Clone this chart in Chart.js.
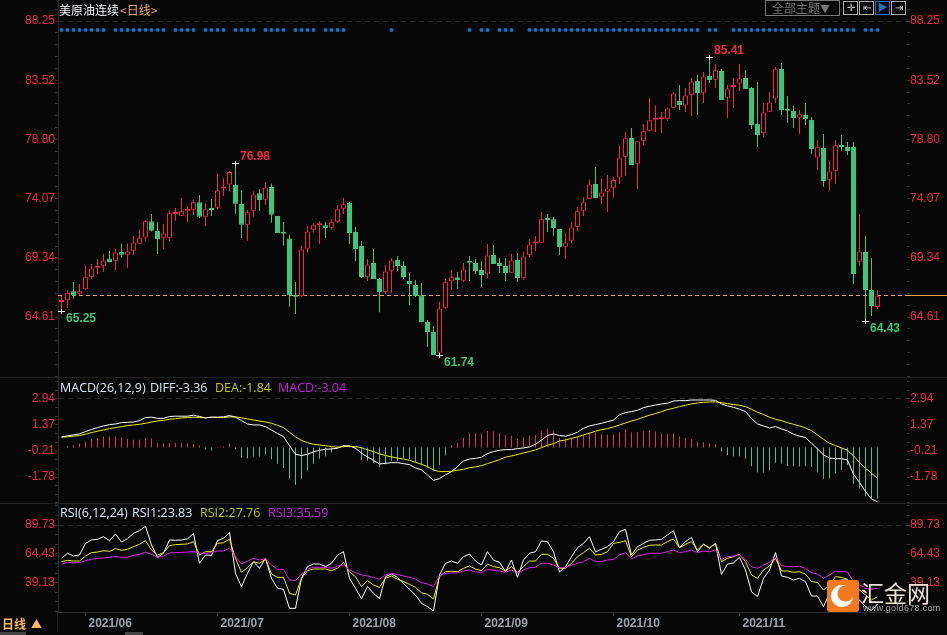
<!DOCTYPE html>
<html>
<head>
<meta charset="utf-8">
<script src="https://cdn.jsdelivr.net/npm/chart.js@4/dist/chart.umd.js"></script>
<style>
  html, body { margin: 0; padding: 0; background: #070707; overflow: hidden; }
  body { width: 947px; height: 635px; position: relative; }
  canvas { position: absolute; left: 0; }
  .t { position: absolute; white-space: nowrap; font-family: "Noto Sans CJK SC", "Liberation Sans", sans-serif; font-size: 12px; line-height: 14px; }
  .k { font-family: "Open Sans", "Liberation Sans", sans-serif; font-size: 12.5px; }
  .line { position: absolute; background: #222; }
  .btn { position: absolute; top: 1px; width: 13px; height: 12px; border: 1px solid #aaa; }
</style>
</head>
<body>

<canvas id="chart" style="top:0px" width="947" height="377"></canvas>
<canvas id="chart2" style="top:378px" width="947" height="125"></canvas>
<canvas id="chart3" style="top:504px" width="947" height="131"></canvas>

<div class="line" style="left:0;top:377px;width:947px;height:1px"></div>
<div class="line" style="left:0;top:503px;width:947px;height:1px"></div>
<div class="line" style="left:57px;top:612px;width:1px;height:20px"></div>
<div class="line" style="left:0;top:632px;width:26px;height:3px;background:#444"></div>
<div class="line" style="left:125px;top:632px;width:18px;height:3px;background:#444"></div>

<div class="t" style="left:59px;top:3px;color:#eef4fa">美原油连续</div>
<div class="t" style="left:120px;top:3px;color:#f2b04c">&lt;日线&gt;</div>

<div class="t" style="left:765px;top:0;width:73px;height:14px;border:1px solid #777;color:#777;text-indent:6px">全部主题<span style="font-size:10px">▼</span></div>
<div class="btn" style="left:843px"></div>
<div class="btn" style="left:859px"></div>
<div class="btn" style="left:875px;border-color:#1b76c4"></div>
<div class="btn" style="left:891px"></div>
<div class="t" style="left:843px;top:0;width:15px;text-align:center;color:#ccc;font-size:10px">✛</div>
<div class="t" style="left:859px;top:0;width:15px;text-align:center;color:#ccc;font-size:10px">⇤</div>
<div class="t" style="left:875px;top:0;width:15px;text-align:center;color:#1b76c4;font-size:10px">▶</div>
<div class="t" style="left:891px;top:0;width:15px;text-align:center;color:#ccc;font-size:10px">⇥</div>

<div class="t k" style="left:60px;top:381px;color:#d8e8f8">MACD(26,12,9)</div>
<div class="t k" style="left:150px;top:381px;color:#d8e8f8">DIFF:-3.36</div>
<div class="t k" style="left:215px;top:381px;color:#c8c800">DEA:-1.84</div>
<div class="t k" style="left:278px;top:381px;color:#c820e0">MACD:-3.04</div>

<div class="t k" style="left:60px;top:506px;color:#d8e8f8">RSI(6,12,24)</div>
<div class="t k" style="left:132px;top:506px;color:#d8e8f8">RSI1:23.83</div>
<div class="t k" style="left:200px;top:506px;color:#b8c800">RSI2:27.76</div>
<div class="t k" style="left:268px;top:506px;color:#c820e0">RSI3:35.59</div>

<div class="t" style="left:2px;top:617px;color:#f5b95f;font-weight:bold">日线</div>
<div class="t" style="left:31px;top:616px;color:#f5b95f;font-size:11px">▲</div>

<svg style="position:absolute;left:827px;top:580px" width="32" height="32" viewBox="0 0 32 32">
  <rect width="32" height="32" rx="3" fill="#f47a20"/>
  <circle cx="15" cy="16" r="11" fill="#fff"/>
  <circle cx="18.5" cy="13.5" r="8" fill="#f47a20"/>
</svg>
<div class="t" style="left:861px;top:578px;color:#eee4d4;font-size:23px;line-height:28px">汇金网</div>
<div class="t" style="left:863px;top:603px;color:#a8a8a8;font-family:'Liberation Sans';font-size:9px;line-height:10px;letter-spacing:.3px">www.gold678.com</div>

<script>
//Velas japonesas, una por dia de cotizacion
const opens = [
  65.81,65.94,66.66,66.47,66.82,67.83,68.55,68.71,69.29,69.11,
  69.80,69.59,69.91,70.47,70.97,72.25,71.48,70.94,70.94,72.83,
  72.70,73.10,73.18,73.77,72.62,73.31,73.34,74.88,75.20,75.15,
  73.63,71.98,73.10,74.49,73.98,74.99,72.67,71.32,70.89,66.34,
  66.26,70.07,71.58,71.93,71.93,71.74,72.22,73.26,73.71,71.40,
  70.28,67.83,68.92,67.64,66.63,68.31,69.16,68.68,67.48,67.16,
  66.34,64.21,63.41,61.76,65.35,67.46,67.78,67.51,69.08,68.92,
  68.36,68.07,69.56,68.92,68.68,68.15,69.16,67.75,69.59,70.49,
  70.54,72.43,72.41,71.64,70.23,70.70,71.82,73.10,74.06,75.23,
  74.22,74.62,74.94,75.76,77.41,78.91,76.85,78.69,79.49,80.37,
  80.40,80.45,81.33,81.86,81.51,82.37,83.46,82.53,83.86,83.56,
  84.26,82.13,82.98,83.27,83.70,82.90,80.02,79.28,81.01,82.07,
  84.42,81.22,81.06,80.53,80.74,80.34,77.36,78.11,75.58,76.30,
  78.35,78.19,78.19,69.03,69.80,66.76,65.41
];
const closes = [
  65.86,66.55,66.34,66.66,67.78,68.49,68.65,69.13,69.00,69.77,
  69.59,69.85,70.57,70.97,72.25,71.50,70.84,71.29,72.89,72.91,
  73.05,73.15,73.77,72.62,73.21,73.15,74.72,74.96,76.19,73.66,
  71.98,72.97,74.40,73.95,74.96,72.78,71.32,71.26,66.34,66.23,
  70.01,71.45,71.93,72.04,71.72,72.17,73.21,73.61,71.32,70.04,
  67.80,68.81,67.64,66.60,68.25,69.13,68.68,67.80,67.24,66.28,
  64.21,63.41,61.57,65.30,67.38,67.78,67.56,68.41,68.95,68.28,
  67.96,69.53,68.84,68.68,68.12,69.13,67.72,69.45,70.41,70.60,
  72.41,72.36,71.72,70.20,70.57,71.77,73.05,73.77,75.20,74.11,
  74.56,74.88,75.55,77.36,78.88,76.75,78.64,79.44,80.32,80.45,
  80.48,81.27,82.47,81.54,82.31,83.43,82.50,83.83,83.54,84.31,
  81.94,82.87,83.06,83.67,82.82,79.94,79.14,80.95,81.75,84.39,
  81.14,81.09,80.50,80.80,80.42,78.03,78.16,75.47,76.24,78.32,
  78.19,77.87,68.04,69.85,66.76,65.49,66.26
];
const highs = [
  66.28,66.74,67.40,67.24,68.73,68.84,69.24,69.64,69.88,70.09,
  70.49,70.49,71.08,71.61,72.36,72.83,72.20,72.04,73.13,73.31,
  74.11,73.47,74.01,74.35,73.69,74.03,76.08,75.71,76.30,76.91,
  74.75,73.15,74.64,74.83,75.36,75.28,72.67,72.20,71.21,67.40,
  70.33,71.88,72.09,72.25,72.17,72.41,73.55,74.11,73.79,71.80,
  70.68,69.24,70.04,67.72,68.76,69.32,69.48,69.08,68.12,67.56,
  67.32,64.37,63.89,65.81,67.64,68.36,68.20,68.92,69.48,69.24,
  69.08,70.44,70.36,69.32,69.32,69.64,69.72,69.80,70.84,71.08,
  73.00,72.83,72.59,71.64,71.32,72.20,73.39,74.17,75.60,76.59,
  75.68,75.95,75.82,78.29,79.38,79.70,78.64,80.02,82.10,81.51,
  80.98,81.35,82.58,83.14,82.90,83.70,83.94,84.18,85.37,84.82,
  84.42,83.14,83.70,84.82,84.34,82.98,83.38,81.70,82.58,84.58,
  84.90,82.26,81.51,81.14,81.70,80.58,78.75,79.23,77.07,78.75,
  79.14,78.59,78.59,72.82,71.08,69.32,66.76
];
const lows = [
  65.09,65.33,66.07,66.34,66.79,67.67,68.04,68.20,68.97,68.36,
  69.35,68.52,69.59,70.47,70.70,71.45,69.64,70.04,70.68,72.30,
  72.67,72.20,72.75,72.51,71.88,72.67,73.23,74.27,74.67,72.83,
  70.92,70.70,72.62,73.07,73.55,72.14,71.32,70.30,65.43,64.85,
  66.23,69.75,71.34,70.44,70.92,71.58,72.12,72.83,70.44,69.08,
  67.72,67.48,67.64,65.00,66.44,66.50,68.28,67.64,65.57,66.20,
  64.21,62.21,61.57,61.57,65.25,66.76,66.84,67.40,67.48,68.04,
  67.00,67.72,68.84,68.12,67.48,68.12,67.40,67.56,69.40,69.88,
  70.52,71.40,71.08,69.56,69.24,70.52,71.48,72.67,74.03,74.11,
  73.63,72.99,74.11,75.23,75.90,76.75,74.83,78.32,79.49,79.38,
  79.30,80.29,81.33,81.14,80.98,80.66,80.74,81.70,83.30,82.90,
  81.94,80.50,81.30,82.66,82.82,79.62,78.19,78.96,81.01,81.70,
  80.74,80.10,79.70,79.23,79.94,77.63,76.35,75.02,74.70,75.23,
  77.87,77.55,67.24,68.68,64.26,64.69,65.25
];
const prevClose = 66.34;
const signalDays = [
  0,1,2,3,4,5,6,7,9,10,11,12,13,14,15,16,17,19,20,21,22,24,25,26,27,29,30,31,32,34,35,36,37,39,40,41,42,
  44,45,46,47,55,68,70,71,73,74,75,
  78,79,80,81,82,83,84,85,86,87,88,89,90,91,92,93,94,95,96,97,98,99,100,101,102,103,104,105,106,
  108,109,112,113,114,115,116,117,118,119,120,121,122,123,124,125,127,128,129,130,131,132,134,135,136
];
const signalLevel = 87.53;

//Maximos y minimos marcados
const markDays = [0, 29, 63, 108, 134];
const markPrices = [65.09, 76.91, 61.57, 85.37, 64.26];
const markTexts = ['65.25', '76.98', '61.74', '85.41', '64.43'];

const diff = [
  .65,.71,.77,.83,.97,1.09,1.21,1.31,1.39,1.43,
  1.51,1.53,1.55,1.63,1.82,1.84,1.77,1.77,1.88,1.90,
  1.90,1.90,1.96,1.88,1.80,1.84,1.84,1.86,1.94,1.84,
  1.63,1.43,1.37,1.37,1.27,1.07,.85,.67,.12,-.40,
  -.48,-.40,-.26,-.16,-.10,-.08,-.04,.12,.10,-.04,
  -.34,-.56,-.77,-.99,-.95,-.91,-.91,-.97,-1.03,-1.23,
  -1.35,-1.65,-1.98,-1.88,-1.65,-1.45,-1.15,-.81,-.69,-.65,
  -.58,-.36,-.24,-.16,-.12,-.12,-.06,-.02,.04,.20,
  .46,.73,.83,.73,.69,.79,.93,1.17,1.31,1.39,
  1.47,1.57,1.67,1.98,2.12,2.18,2.26,2.42,2.50,2.58,
  2.64,2.68,2.82,2.84,2.84,2.88,2.88,2.88,2.88,2.86,
  2.64,2.52,2.44,2.32,2.18,1.77,1.43,1.31,1.19,1.27,
  1.13,1.01,.81,.69,.61,.26,-.08,-.44,-.63,-.67,
  -.67,-.75,-1.61,-2.10,-2.66,-3.11,-3.27
];
const dea = [
  .63,.65,.69,.73,.81,.91,.99,1.07,1.15,1.21,
  1.27,1.33,1.37,1.41,1.47,1.55,1.61,1.65,1.71,1.75,
  1.80,1.82,1.84,1.82,1.80,1.84,1.82,1.82,1.86,1.86,
  1.80,1.73,1.67,1.61,1.55,1.47,1.35,1.21,.93,.65,
  .44,.30,.20,.16,.12,.06,.02,.06,.08,.06,
  0,-.14,-.24,-.38,-.48,-.56,-.63,-.69,-.77,-.89,
  -1.01,-1.15,-1.35,-1.45,-1.45,-1.43,-1.37,-1.31,-1.21,-1.17,
  -1.09,-.97,-.85,-.73,-.58,-.50,-.42,-.32,-.24,-.14,
  0,.14,.24,.40,.46,.56,.65,.77,.87,.99,
  1.09,1.15,1.25,1.37,1.49,1.61,1.71,1.84,1.96,2.06,
  2.18,2.30,2.38,2.48,2.56,2.64,2.70,2.74,2.76,2.76,
  2.72,2.66,2.60,2.56,2.48,2.32,2.14,2.00,1.84,1.71,
  1.63,1.51,1.41,1.31,1.19,1.03,.77,.50,.26,.12,
  -.02,-.16,-.50,-.89,-1.25,-1.55,-1.86
];
const macdBars = [
  .02,.10,.14,.24,.36,.54,.58,.65,.67,.67,
  .61,.54,.48,.48,.58,.56,.30,.26,.30,.30,
  .30,.26,.24,.14,-.12,-.18,.02,.06,.24,-.10,
  -.61,-.65,-.54,-.54,-.42,-.71,-.97,-1.23,-1.88,-2.24,
  -1.88,-1.39,-.97,-.67,-.52,-.30,.10,.14,.14,-.10,
  -.73,-.79,-.93,-1.19,-1.01,-.79,-.79,-.63,-.69,-.87,
  -1.03,-1.23,-1.45,-1.07,-.48,.14,.30,.58,.87,.87,
  .85,1.01,.97,.89,.75,.71,.54,.63,.73,.77,
  .99,1.15,.99,.58,.54,.56,.65,.77,.95,.91,
  .83,.79,.79,.93,1.13,.93,.95,.99,1.03,.97,
  .87,.83,.85,.67,.58,.50,.36,.34,.26,.20,
  -.24,-.44,-.52,-.52,-.67,-1.13,-1.49,-1.51,-1.37,-.91,
  -.97,-1.11,-1.13,-1.15,-1.13,-1.17,-1.49,-1.88,-1.86,-1.57,
  -1.37,-1.07,-2.18,-2.48,-2.94,-3.09,-3.09
];

const rsi1 = [
  60.5,64.9,62.5,63.4,73.6,76.6,77.2,79.5,76.0,81.8,
  74.8,77.7,82.4,84.8,88.6,72.2,61.4,64.9,76.6,76.3,
  76.6,77.5,82.4,56.1,63.4,63.1,76.0,78.0,83.3,47.3,
  35.6,47.3,57.6,51.7,60.5,42.9,34.2,33.3,16.6,16.6,
  42.9,53.2,55.5,55.5,53.2,56.1,63.4,66.3,42.9,34.2,
  25.1,35.6,29.8,25.1,44.4,46.7,43.8,38.6,33.3,28.3,
  21.0,18.1,14.3,45.9,56.1,58.1,56.1,61.9,64.3,58.1,
  54.6,66.3,59.0,57.0,48.8,59.0,43.8,59.0,64.9,66.3,
  75.7,75.1,66.3,48.5,53.2,61.9,69.8,73.6,79.5,66.3,
  68.4,70.7,75.1,83.9,85.9,63.4,70.7,73.6,76.3,76.6,
  77.2,81.0,84.8,69.8,75.1,78.9,66.3,72.8,69.3,73.6,
  46.4,55.5,56.4,61.4,50.2,31.2,26.8,42.9,50.2,65.5,
  45.0,43.8,41.5,42.9,40.0,27.4,27.4,18.1,29.8,39.1,
  41.5,41.5,28.3,23.9,18.1,14.6,20.4
];
const rsi2 = [
  57.6,58.7,58.1,58.1,62.5,65.5,66.0,67.2,66.6,69.0,
  67.5,68.4,70.7,72.8,76.0,67.8,63.4,65.5,71.6,72.5,
  72.8,73.1,75.1,63.4,66.3,66.3,73.6,74.2,77.2,60.5,
  48.2,52.3,57.6,56.1,59.9,46.7,43.8,43.8,29.8,28.3,
  42.9,49.7,51.1,51.1,51.1,49.7,51.7,57.0,48.8,44.4,
  35.6,40.9,37.1,35.0,42.9,45.0,42.1,40.0,37.7,35.0,
  30.3,28.9,24.8,44.4,48.8,49.1,48.8,51.7,53.8,51.1,
  49.7,55.5,53.2,52.3,49.4,53.2,47.9,53.2,58.1,58.1,
  64.0,64.0,60.5,51.7,51.7,56.1,61.9,65.5,69.3,63.4,
  64.0,66.3,73.6,74.5,76.0,61.9,67.8,70.1,71.9,72.2,
  72.2,75.1,77.5,69.8,72.8,75.1,67.8,72.8,69.8,73.6,
  57.6,60.5,61.9,64.0,57.6,45.9,42.9,50.2,53.8,60.5,
  49.4,49.4,48.2,48.8,46.7,40.0,39.4,32.7,37.1,44.4,
  43.8,42.1,36.2,32.7,28.3,23.9,26.8
];
const rsi3 = [
  55.2,57.0,56.4,56.7,58.4,59.6,60.5,60.8,61.4,62.2,
  61.4,61.4,63.1,64.0,66.0,64.0,61.4,62.5,65.2,65.5,
  65.7,66.0,66.6,64.9,64.9,65.5,66.9,66.9,69.3,61.9,
  55.5,58.1,60.5,59.0,60.2,54.6,50.8,50.8,41.5,40.9,
  46.7,51.1,52.6,52.6,52.6,51.7,53.8,54.6,50.2,47.9,
  45.9,45.0,43.8,42.1,45.9,47.3,46.2,45.0,43.8,42.1,
  39.1,38.0,35.6,45.0,47.3,47.6,47.6,49.4,50.2,48.5,
  48.2,50.8,50.0,49.4,48.2,50.2,47.6,50.2,52.3,52.6,
  56.1,56.1,54.6,52.0,52.6,54.3,56.1,57.6,60.5,57.6,
  57.8,59.0,59.6,63.4,65.5,59.9,62.5,63.7,64.9,64.9,
  64.9,66.3,67.8,65.5,66.3,67.8,65.5,66.9,66.3,67.8,
  59.6,61.9,62.5,63.4,59.6,53.2,51.7,54.6,57.0,61.4,
  54.0,53.2,53.2,53.5,51.7,47.9,46.7,42.9,45.9,49.1,
  48.8,48.5,40.0,37.1,34.2,33.3,34.2
];

const priceTicks = [88.25, 83.52, 78.80, 74.07, 69.34, 64.61];
const macdTicks = [2.94, 1.37, -0.21, -1.78];
const rsiTicks = [89.73, 64.43, 39.13];
const monthDays = [4, 26, 48, 70, 92, 113];
const monthLabels = ['2021/06', '2021/07', '2021/08', '2021/09', '2021/10', '2021/11'];

const rojo = '#f0284a';
const verde = '#3cc67c';
const fondo = '#070707';
const xMin = -0.5833, xMax = 140.9167;

Chart.defaults.font.family = '"Liberation Sans", Arial, sans-serif';
Chart.defaults.font.size = 12;
Chart.defaults.animation = false;

//Junta cada tick con sus divisiones menores, solo llevan etiqueta los principales
let conMenores = (ticks, partes, min, max) => {
  let paso = (ticks[0] - ticks[1]) / partes;
  let lista = [];
  for (let v = ticks[0]; v < max; v += paso) lista.push(v);
  for (let v = ticks[0] - paso; v > min; v -= paso) lista.push(v);
  return lista.map(v => {
    let cerca = ticks.find(t => Math.abs(t - v) < paso / 10);
    return {value: cerca === undefined ? v : cerca};
  });
};

let ejeY = (ticks, partes, min, max, pos) => ({
  position: pos,
  min: min,
  max: max,
  border: pos === 'left' ? {color: '#2a2a2a', dash: [5, 4]} : {display: false},
  grid: {
    drawOnChartArea: pos === 'left',
    tickLength: 3,
    tickColor: '#333',
    tickBorderDash: [],
    color: c => (c.tick && c.tick.value === ticks[0]) ? '#2c2c2c' : 'transparent'
  },
  ticks: {
    color: rojo,
    padding: 0,
    autoSkip: false,
    callback: v => ticks.includes(v) ? v.toFixed(2) : ''
  },
  afterBuildTicks: s => { s.ticks = conMenores(ticks, partes, min, max); },
  afterFit: s => { s.width = pos === 'left' ? 58 : 40; s.paddingTop = 0; s.paddingBottom = 0; }
});

let ejeXOculto = {type: 'linear', display: false, min: xMin, max: xMax, offset: false};

let linea = (data, color) => ({
  type: 'line',
  data: data.map((v, i) => ({x: i, y: v})),
  borderColor: color,
  borderWidth: 1,
  pointRadius: 0,
  tension: 0,
  order: 0
});

let base = {
  responsive: false,
  events: [],
  layout: {autoPadding: false},
  plugins: {legend: {display: false}, tooltip: {enabled: false}}
};

//Linea del cierre anterior, punteada dentro del grafico y continua a la derecha
let lineaCierre = {
  id: 'lineaCierre',
  beforeDatasetsDraw(chart) {
    let ctx = chart.ctx, y = Math.round(chart.scales.y.getPixelForValue(prevClose)) + 0.5;
    ctx.save();
    ctx.strokeStyle = '#e8a33d';
    ctx.lineWidth = 1;
    ctx.setLineDash([4, 3]);
    ctx.beginPath(); ctx.moveTo(chart.chartArea.left, y); ctx.lineTo(905, y); ctx.stroke();
    ctx.setLineDash([]);
    ctx.beginPath(); ctx.moveTo(905, y); ctx.lineTo(947, y); ctx.stroke();
    ctx.restore();
  }
};

//Cruz blanca y valor en los maximos y minimos
let marcas = {
  id: 'marcas',
  afterDatasetsDraw(chart) {
    let ctx = chart.ctx;
    ctx.save();
    ctx.font = 'bold 12px "Liberation Sans"';
    ctx.textBaseline = 'middle';
    markDays.forEach((d, k) => {
      let x = Math.floor(chart.scales.x.getPixelForValue(d)) + 0.5;
      let y = Math.round(chart.scales.y.getPixelForValue(markPrices[k])) + 0.5;
      let alto = highs[d] - markPrices[k] < 0.01;
      ctx.strokeStyle = '#fff';
      ctx.lineWidth = 1;
      ctx.beginPath();
      ctx.moveTo(x - 3.5, y); ctx.lineTo(x + 3.5, y);
      ctx.moveTo(x, y - 2.5); ctx.lineTo(x, y + 2.5);
      ctx.stroke();
      ctx.fillStyle = alto ? rojo : verde;
      ctx.fillText(markTexts[k], x + 4.5, alto ? y - 7 : y + 7.5);
    });
    ctx.restore();
  }
};

var ctx = document.getElementById('chart').getContext('2d');
var chart = new Chart(ctx, {
  type: 'bar',
  data: {
    datasets: [
      {
        data: signalDays.map(d => ({x: d, y: signalLevel})),
        type: 'line',
        showLine: false,
        pointRadius: 2,
        pointBorderWidth: 0,
        pointBackgroundColor: '#0f74c4',
        order: 0
      },
      {
        data: opens.map((o, i) => ({x: i, y: [opens[i], closes[i]]})),
        grouped: false,
        barThickness: 5,
        minBarLength: 2,
        borderWidth: 1,
        borderSkipped: false,
        inflateAmount: 0,
        backgroundColor: opens.map((o, i) => closes[i] >= o ? fondo : verde),
        borderColor: opens.map((o, i) => closes[i] >= o ? rojo : verde),
        order: 1
      },
      {
        data: highs.map((h, i) => ({x: i, y: [lows[i], h]})),
        grouped: false,
        barThickness: 1,
        inflateAmount: 0,
        backgroundColor: opens.map((o, i) => closes[i] >= o ? rojo : verde),
        order: 2
      }
    ]
  },
  options: Object.assign({}, base, {
    scales: {
      x: ejeXOculto,
      y: ejeY(priceTicks, 5, 59.82, 89.93, 'left'),
      yR: ejeY(priceTicks, 5, 59.82, 89.93, 'right')
    }
  }),
  plugins: [lineaCierre, marcas]
});

var ctx2 = document.getElementById('chart2').getContext('2d');
var chart2 = new Chart(ctx2, {
  type: 'bar',
  data: {
    datasets: [
      linea(diff, '#ffffff'),
      linea(dea, '#f0f000'),
      {
        data: macdBars.map((v, i) => ({x: i, y: v})),
        grouped: false,
        barThickness: 1,
        inflateAmount: 0,
        backgroundColor: macdBars.map(v => v >= 0 ? '#d9344f' : '#55b98c'),
        order: 1
      }
    ]
  },
  options: Object.assign({}, base, {
    scales: {
      x: ejeXOculto,
      y: ejeY(macdTicks, 3, -3.35, 4.21, 'left'),
      yR: ejeY(macdTicks, 3, -3.35, 4.21, 'right')
    }
  })
});

var ctx3 = document.getElementById('chart3').getContext('2d');
var chart3 = new Chart(ctx3, {
  type: 'line',
  data: {
    datasets: [linea(rsi3, '#e020f0'), linea(rsi2, '#f0f000'), linea(rsi1, '#ffffff')]
  },
  options: Object.assign({}, base, {
    scales: {
      x: {
        type: 'linear',
        min: xMin,
        max: xMax,
        border: {color: '#2a2a2a'},
        grid: {drawOnChartArea: false, tickLength: 4, tickColor: '#444'},
        ticks: {
          color: '#9aa4ad',
          font: {weight: 'bold', size: 12},
          align: 'start',
          labelOffset: 3,
          padding: 0,
          autoSkip: false,
          maxRotation: 0,
          callback: v => monthLabels[monthDays.indexOf(v)]
        },
        afterBuildTicks: s => { s.ticks = monthDays.map(v => ({value: v})); },
        afterFit: s => { s.height = 23; s.paddingLeft = 0; s.paddingRight = 0; }
      },
      y: ejeY(rsiTicks, 3, 13.38, 108.16, 'left'),
      yR: ejeY(rsiTicks, 3, 13.38, 108.16, 'right')
    }
  })
});
</script>
</body>
</html>
